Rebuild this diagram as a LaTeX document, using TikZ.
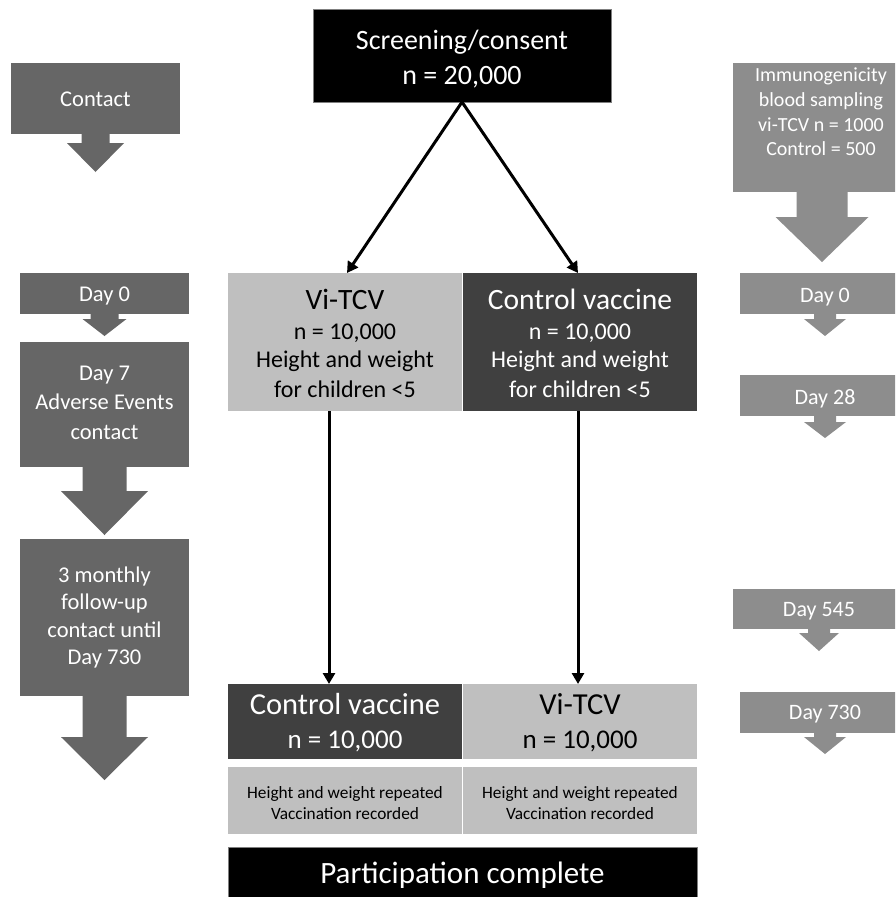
\documentclass[tikz,border=0pt]{standalone}
\usepackage{fontspec}
\setmainfont{Carlito}
\usetikzlibrary{arrows.meta,calc}
\definecolor{leftgray}{HTML}{666666}
\definecolor{rightgray}{HTML}{8D8D8D}
\definecolor{lightbox}{HTML}{BFBFBF}
\definecolor{darkbox}{HTML}{404040}
\definecolor{edgegray}{HTML}{7F7F7F}
% block arrow below a node: name, stem half width, stem length, head half width, head length, colour
\newcommand\blockarrow[6]{\fill[#6] ([xshift=-#2pt]#1.south) -- ++(0,#3) -- ++(#2-#4,0) -- ++(#4,#5) -- ++(#4,-#5) -- ++(#2-#4,0) -- ++(0,-#3) -- cycle;}
\tikzset{
  basebox/.style={anchor=north west, inner sep=0pt, outer sep=0pt},
  lbox/.style={basebox, fill=leftgray},
  rbox/.style={basebox, fill=rightgray},
  blackbox/.style={basebox, fill=black, draw=edgegray, line width=1pt},
  lightb/.style={basebox, fill=lightbox},
  darkb/.style={basebox, fill=darkbox},
  txt/.style={inner sep=0pt, align=center},
  ltxt/.style={txt, text=white, font=\fontsize{22.5}{27.5}\selectfont},
  rtxt/.style={txt, text=white, font=\fontsize{22}{26}\selectfont},
  conn/.style={line width=3pt, -{Triangle[length=11pt,width=12pt]}},
}
\begin{document}
\begin{tikzpicture}[x=1pt,y=-1pt]
\clip (0,0) rectangle (895,897);
\fill[white] (0,0) rectangle (895,897);

% left column
\node[lbox, minimum width=169pt, minimum height=71pt] (contact) at (11,63) {};
\node[ltxt] (contacttxt) at ([yshift=-1pt]contact.center) {Contact};
\blockarrow{contact}{14}{9}{28.5}{29}{leftgray}
\node[lbox, minimum width=169pt, minimum height=41pt] (lday0) at (20,273) {};
\node[ltxt] (lday0txt) at ([yshift=-3pt]lday0.center) {Day 0};
\blockarrow{lday0}{14}{5}{22}{17}{leftgray}
\node[lbox, minimum width=169pt, minimum height=125pt] (lday7) at (20,342) {};
\node[ltxt, font=\fontsize{22.5}{29.5}\selectfont] (lday7txt) at ([yshift=2pt]lday7.center) {Day 7\\Adverse Events\\contact};
\blockarrow{lday7}{22}{24}{43.5}{44}{leftgray}
\node[lbox, minimum width=169pt, minimum height=157pt] (monthly) at (20,539) {};
\node[ltxt] (monthlytxt) at (monthly.center) {3 monthly\\follow-up\\contact until\\Day 730};
\blockarrow{monthly}{22}{41}{43.5}{43}{leftgray}

% right column
\node[rbox, minimum width=178pt, minimum height=129pt] (immuno) at (733,63) {};
\node[txt, text=white, font=\fontsize{20}{24.7}\selectfont] (immunotxt) at (821,112) {Immunogenicity\\blood sampling\\vi-TCV n = 1000\\Control = 500};
\blockarrow{immuno}{25.5}{25}{46.5}{45}{rightgray}
\node[rbox, minimum width=170pt, minimum height=41pt] (rday0) at (740,273) {};
\node[rtxt] (rday0txt) at ([yshift=-3.5pt]rday0.center) {Day 0};
\blockarrow{rday0}{11}{5}{21}{17}{rightgray}
\node[rbox, minimum width=170pt, minimum height=41pt] (rday28) at (740,375) {};
\node[rtxt] (rday28txt) at ([yshift=-3pt]rday28.center) {Day 28};
\blockarrow{rday28}{11}{6}{21}{16}{rightgray}
\node[rbox, minimum width=172pt, minimum height=40pt] (rday545) at (733,589) {};
\node[rtxt] (rday545txt) at ([yshift=-2pt]rday545.center) {Day 545};
\blockarrow{rday545}{11}{4}{20}{18}{rightgray}
\node[rbox, minimum width=170pt, minimum height=41pt] (rday730) at (740,692) {};
\node[rtxt] (rday730txt) at ([yshift=-2pt]rday730.center) {Day 730};
\blockarrow{rday730}{11}{4}{21}{17}{rightgray}

% centre column
\node[blackbox, minimum width=298pt, minimum height=93pt] (top) at (313,9) {};
\node[txt, text=white, font=\fontsize{28}{35}\selectfont] (toptxt) at ([yshift=-4pt]top.center) {Screening/consent\\n = 20,000};
\node[lightb, minimum width=234pt, minimum height=138pt] (vt) at (228,273) {};
\node[txt, text=black, font=\fontsize{24}{30}\selectfont] (vttxt) at ([yshift=-1pt]vt.center) {{\fontsize{29.5}{30}\selectfont Vi-TCV}\\[0pt]n = 10,000\\[-2pt]Height and weight\\for children <5};
\node[darkb, minimum width=234pt, minimum height=138pt] (ct) at (463,273) {};
\node[txt, text=white, font=\fontsize{24}{30}\selectfont] (cttxt) at ([yshift=-1pt]ct.center) {{\fontsize{29.5}{30}\selectfont Control vaccine}\\[0pt]n = 10,000\\[-2pt]Height and weight\\for children <5};
\node[darkb, minimum width=234pt, minimum height=75pt] (cb) at (228,684) {};
\node[txt, text=white, font=\fontsize{27}{34}\selectfont] (cbtxt) at ([yshift=-1pt]cb.center) {{\fontsize{30.5}{34}\selectfont Control vaccine}\\n = 10,000};
\node[lightb, minimum width=234pt, minimum height=75pt] (vb) at (463,684) {};
\node[txt, text=black, font=\fontsize{27}{34}\selectfont] (vbtxt) at ([yshift=-1pt]vb.center) {{\fontsize{30.5}{34}\selectfont Vi-TCV}\\n = 10,000};
\node[lightb, minimum width=234pt, minimum height=67pt] (hw1) at (228,767) {};
\node[txt, text=black, font=\fontsize{17.3}{21}\selectfont] (hw1txt) at ([yshift=-3pt]hw1.center) {Height and weight repeated\\Vaccination recorded};
\node[lightb, minimum width=234pt, minimum height=67pt] (hw2) at (463,767) {};
\node[txt, text=black, font=\fontsize{17.3}{21}\selectfont] (hw2txt) at ([yshift=-3pt]hw2.center) {Height and weight repeated\\Vaccination recorded};
\node[blackbox, minimum width=469pt, minimum height=58pt] (pc) at (228,847) {};
\node[txt, text=white, font=\fontsize{31}{34}\selectfont] (pctxt) at ([yshift=1pt]pc.center) {Participation complete};

% connectors
\draw[conn] (top.south) -- ([xshift=2pt]vt.north);
\draw[conn] (top.south) -- ([xshift=-2pt]ct.north);
\draw[conn] ([xshift=-16pt]vt.south) -- ([xshift=-16pt]cb.north);
\draw[conn] ([xshift=-2pt]ct.south) -- ([xshift=-2pt]vb.north);
\end{tikzpicture}
\end{document}
